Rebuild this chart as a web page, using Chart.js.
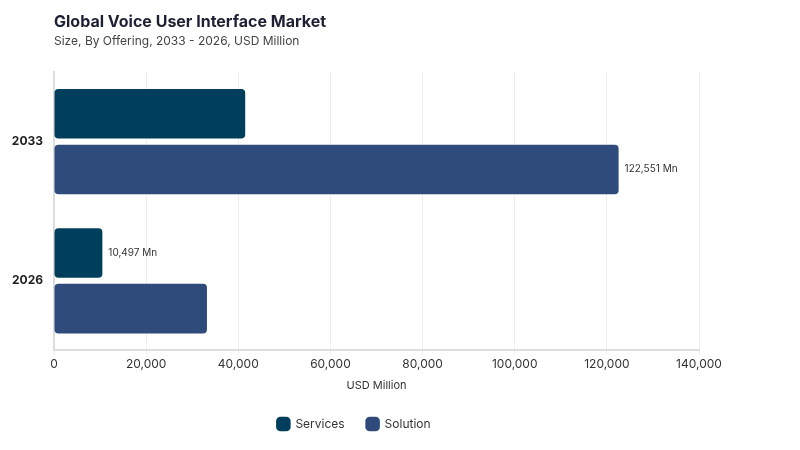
<!DOCTYPE html>
<html>
<head>
<meta charset="utf-8">
<script src="https://cdn.jsdelivr.net/npm/chart.js@4"></script>
<style>
  body { margin: 0; background: #fff; font-family: Inter, sans-serif; }
  #wrap { position: relative; width: 800px; height: 450px; }
  #title { position: absolute; left: 54px; top: 11px; font-size: 16px; font-weight: 700; color: #1d1f33; }
  #subtitle { position: absolute; left: 54px; top: 33px; font-size: 12px; color: #444; }
</style>
</head>
<body>
<div id="wrap">
  <div id="title">Global Voice User Interface Market</div>
  <div id="subtitle">Size, By Offering, 2033 - 2026, USD Million</div>
  <canvas id="myChart" width="800" height="450"></canvas>
</div>
<script>
const years = ['2033', '2026'];
const servicesValues = [41500, 10497];
const solutionValues = [122551, 33200];
// which bars carry a value label
const servicesLabels = [false, true];
const solutionLabels = [true, false];
const xTicks = [0, 20000, 40000, 60000, 80000, 100000, 120000, 140000];

const valueLabels = {
  id: 'valueLabels',
  afterDatasetsDraw(chart) {
    const ctx = chart.ctx;
    ctx.save();
    ctx.font = '10px Inter, sans-serif';
    ctx.fillStyle = '#333';
    ctx.textBaseline = 'middle';
    chart.data.datasets.forEach(function(ds, i) {
      const meta = chart.getDatasetMeta(i);
      meta.data.forEach(function(bar, j) {
        if (!ds.showLabel[j]) return;
        ctx.fillText(ds.data[j].toLocaleString('en-US') + ' Mn', bar.x + 6, bar.y);
      });
    });
    ctx.restore();
  }
};

new Chart('myChart', {
  type: 'bar',
  data: {
    labels: years,
    datasets: [{
      label: 'Services',
      data: servicesValues,
      showLabel: servicesLabels,
      backgroundColor: '#003f5c',
      borderRadius: 4,
      borderSkipped: false
    }, {
      label: 'Solution',
      data: solutionValues,
      showLabel: solutionLabels,
      backgroundColor: '#2f4b7c',
      borderRadius: 4,
      borderSkipped: false
    }]
  },
  options: {
    indexAxis: 'y',
    responsive: false,
    animation: false,
    barPercentage: 0.89,
    categoryPercentage: 0.8,
    layout: { padding: { top: 72, left: 9, right: 101, bottom: 10 } },
    scales: {
      x: {
        min: 0,
        max: 140000,
        afterBuildTicks(scale) { scale.ticks = xTicks.map(v => ({ value: v })); },
        grid: { color: '#eeeeee', tickLength: 4 },
        border: { color: '#dddddd', width: 2 },
        ticks: {
          color: '#333',
          font: { family: 'Inter', size: 12 },
          callback: v => v.toLocaleString('en-US')
        },
        title: { display: true, text: 'USD Million', color: '#333', font: { family: 'Inter', size: 11 } }
      },
      y: {
        afterFit(scale) { scale.width = 45; },
        grid: { display: false },
        border: { color: '#dddddd', width: 2 },
        ticks: { color: '#222', font: { family: 'Inter', size: 12, weight: 'bold' } }
      }
    },
    plugins: {
      legend: {
        position: 'bottom',
        labels: {
          usePointStyle: true,
          pointStyle: 'rectRounded',
          boxWidth: 13,
          boxHeight: 13,
          padding: 22,
          color: '#333',
          font: { family: 'Inter', size: 12 }
        }
      },
      tooltip: { enabled: false }
    }
  },
  plugins: [valueLabels]
});
</script>
</body>
</html>
